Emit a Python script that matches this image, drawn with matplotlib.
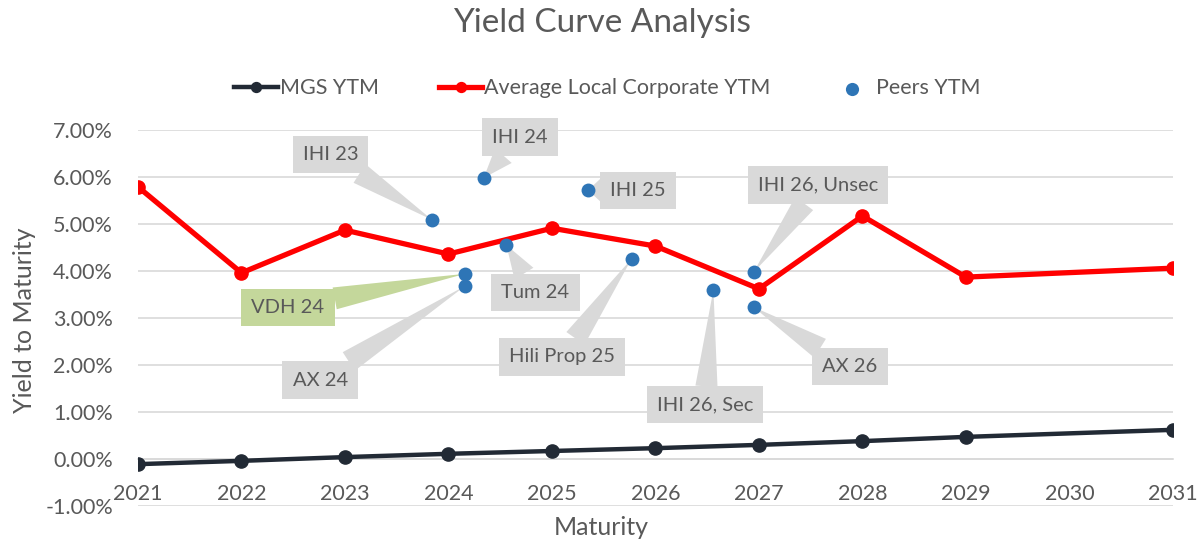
import matplotlib
matplotlib.use("Agg")
import matplotlib.pyplot as plt
from matplotlib.ticker import FuncFormatter, MultipleLocator

plt.rcParams['font.family'] = ['Lato', 'DejaVu Sans']

# ---- data ----
years = [2021, 2022, 2023, 2024, 2025, 2026, 2027, 2028, 2029, 2031]
mgs_ytm = [-0.11, -0.04, 0.04, 0.11, 0.17, 0.23, 0.30, 0.38, 0.47, 0.62]
corp_ytm = [5.79, 3.96, 4.87, 4.36, 4.91, 4.53, 3.62, 5.17, 3.87, 4.06]

peer_names = ["IHI 23", "IHI 24", "IHI 25", "Tum 24", "VDH 24", "AX 24",
              "Hili Prop 25", "IHI 26, Sec", "IHI 26, Unsec", "AX 26"]
peer_x = [2023.84, 2024.34, 2025.35, 2024.56, 2024.16, 2024.16,
          2025.77, 2026.56, 2026.95, 2026.95]
peer_y = [5.09, 5.98, 5.72, 4.55, 3.94, 3.68, 4.26, 3.60, 3.98, 3.23]

# callout label placement (layout)
label_pos = [(2022.86, 6.47), (2024.69, 6.85), (2025.83, 5.72), (2024.84, 3.55),
             (2022.45, 3.23), (2022.76, 1.68), (2025.10, 2.17), (2026.48, 1.15),
             (2027.57, 5.83), (2027.88, 1.96)]
label_fc = ['#d9d9d9'] * 4 + ['#c4d79b'] + ['#d9d9d9'] * 5

TXT = '#595959'

fig = plt.figure(figsize=(12.03, 5.45), dpi=100)
ax = fig.add_axes([0.1147, 0.0716, 0.8603, 0.6899])

ax.plot(years, mgs_ytm, color='#222a35', lw=3.2, marker='o', ms=9.5,
        label='MGS YTM', zorder=4)
ax.plot(years, corp_ytm, color='#ff0000', lw=3.8, marker='o', ms=9.5,
        label='Average Local Corporate YTM', zorder=4)
ax.scatter(peer_x, peer_y, s=100, color='#2e75b6', label='Peers YTM', zorder=6,
           linewidths=0)

for name, px, py, (lx, ly), fc in zip(peer_names, peer_x, peer_y, label_pos, label_fc):
    ax.annotate(name, xy=(px, py), xytext=(lx, ly), ha='center', va='center',
                fontsize=14.5, color=TXT, zorder=3,
                bbox=dict(boxstyle='square,pad=0.5', fc=fc, ec='none'),
                arrowprops=dict(arrowstyle='wedge,tail_width=1.1,shrink_factor=0.5',
                                fc=fc, ec='none', shrinkA=0, shrinkB=0),
                annotation_clip=False)

ax.set_xlim(2021, 2031)
ax.set_ylim(-1, 7)
ax.xaxis.set_major_locator(MultipleLocator(1))
ax.yaxis.set_major_locator(MultipleLocator(1))
ax.xaxis.set_major_formatter(FuncFormatter(lambda v, p: f"{int(round(v))}"))
ax.yaxis.set_major_formatter(FuncFormatter(lambda v, p: f"{v:.2f}%"))

for s in ['top', 'right', 'left']:
    ax.spines[s].set_visible(False)
ax.spines['bottom'].set_position(('data', 0))
ax.spines['bottom'].set_color('#d9d9d9')
ax.spines['bottom'].set_linewidth(1.2)
ax.grid(axis='y', color='#d9d9d9', lw=1.2)
ax.set_axisbelow(True)
ax.tick_params(axis='both', length=0, labelsize=15.5, labelcolor=TXT)
ax.tick_params(axis='x', pad=18)
ax.tick_params(axis='y', pad=18)

fig.text(0.5, 0.958, 'Yield Curve Analysis', ha='center', va='center',
         fontsize=24, color=TXT)
fig.text(0.5, 0.033, 'Maturity', ha='center', va='center', fontsize=18, color=TXT)
fig.text(0.02, 0.413, 'Yield to Maturity', ha='center', va='center',
         rotation=90, fontsize=18, color=TXT)

leg = fig.legend(loc='center', bbox_to_anchor=(0.505, 0.838), ncol=3, frameon=False,
                 fontsize=15.5, handlelength=2.0, columnspacing=2.8, handletextpad=0.1,
                 markerscale=0.75)
for t in leg.get_texts():
    t.set_color(TXT)
leg.legend_handles[2].set_sizes([90])

fig.savefig('out.png', dpi=100)
